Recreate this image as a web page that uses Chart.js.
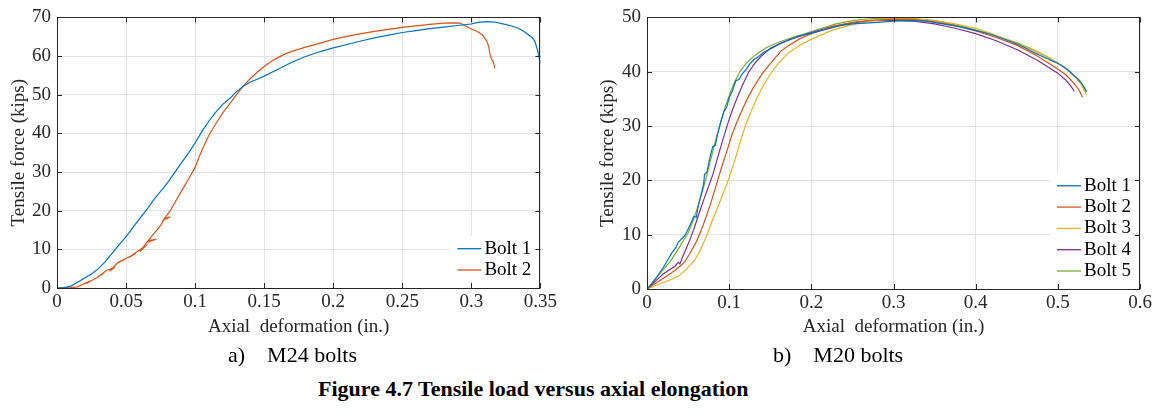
<!DOCTYPE html>
<html>
<head>
<meta charset="utf-8">
<script src="https://cdn.jsdelivr.net/npm/chart.js@4.4.0/dist/chart.umd.min.js"></script>
<style>
body { margin:0; background:#fff; width:1165px; height:411px; position:relative; overflow:hidden; font-family:"Times New Roman","Liberation Serif","DejaVu Serif",serif; }
.box { position:absolute; top:0; height:345px; }
#boxA { left:0; width:560px; }
#boxB { left:580px; width:585px; }
.cap { position:absolute; font-size:22px; white-space:pre; color:#000; line-height:22px; }
</style>
</head>
<body>
<div class="box" id="boxA"><canvas id="chartA"></canvas></div>
<div class="box" id="boxB"><canvas id="chartB"></canvas></div>
<div class="cap" style="left:228px;top:344px;">a)    M24 bolts</div>
<div class="cap" style="left:773px;top:344px;">b)    M20 bolts</div>
<div class="cap" style="left:318px;top:378px;font-weight:bold;">Figure 4.7 Tensile load versus axial elongation</div>
<script>
// M24 bolts (left)
const m24Ticks = [0, 0.05, 0.1, 0.15, 0.2, 0.25, 0.3, 0.35];
const m24TickLabels = ['0', '0.05', '0.1', '0.15', '0.2', '0.25', '0.3', '0.35'];
const m24YTicks = [0, 10, 20, 30, 40, 50, 60, 70];
const m24Bolt1 = [[0,0],[0.005,0.1],[0.01,0.5],[0.015,1.5],[0.02,2.6],[0.025,3.6],[0.03,5.0],[0.035,6.8],[0.04,9.0],[0.045,11.2],[0.05,13.3],[0.055,15.7],[0.06,18.0],[0.065,20.3],[0.07,22.8],[0.075,25.0],[0.08,27.2],[0.085,29.8],[0.09,32.3],[0.095,34.8],[0.1,37.5],[0.105,40.5],[0.11,43.2],[0.115,45.5],[0.12,47.5],[0.125,49.0],[0.13,50.8],[0.135,52.2],[0.14,53.3],[0.145,54.0],[0.15,54.8],[0.16,56.6],[0.17,58.4],[0.18,59.9],[0.19,61.1],[0.2,62.1],[0.21,63.0],[0.22,63.9],[0.23,64.7],[0.24,65.4],[0.25,66.1],[0.26,66.6],[0.27,67.1],[0.28,67.5],[0.29,67.9],[0.3,68.3],[0.305,68.7],[0.311,68.9],[0.317,68.8],[0.322,68.4],[0.328,67.9],[0.334,67.2],[0.338,66.4],[0.341,65.6],[0.344,64.8],[0.346,63.8],[0.348,61.5],[0.349,59.8],[0.35,58.0]];
const m24Bolt2 = [[0,0],[0.01,0.1],[0.015,0.3],[0.019,1.0],[0.024,1.8],[0.021,1.1],[0.029,2.7],[0.034,3.9],[0.03,2.9],[0.036,4.6],[0.041,5.1],[0.038,4.3],[0.044,6.6],[0.049,7.4],[0.044,6.5],[0.052,8.0],[0.057,8.9],[0.052,7.9],[0.06,9.9],[0.064,10.8],[0.06,9.4],[0.066,12.3],[0.072,12.6],[0.065,11.8],[0.07,14.0],[0.075,16.2],[0.078,18.0],[0.082,18.4],[0.077,17.6],[0.082,20.0],[0.086,22.5],[0.09,25.0],[0.095,28.0],[0.1,31.2],[0.103,34.0],[0.106,36.5],[0.11,39.5],[0.115,42.5],[0.12,45.3],[0.125,47.6],[0.13,50.0],[0.135,52.3],[0.14,54.2],[0.145,55.8],[0.15,57.3],[0.155,58.6],[0.16,59.6],[0.165,60.5],[0.17,61.2],[0.18,62.3],[0.19,63.3],[0.2,64.3],[0.21,65.1],[0.22,65.8],[0.23,66.4],[0.24,66.9],[0.25,67.4],[0.26,67.8],[0.27,68.2],[0.28,68.5],[0.288,68.6],[0.292,68.5],[0.295,67.9],[0.3,67.0],[0.304,66.4],[0.308,65.5],[0.311,64.0],[0.3125,62.6],[0.3135,60.5],[0.3145,59.3],[0.316,58.4],[0.317,56.8]];

// M20 bolts (right)
const m20Ticks = [0, 0.1, 0.2, 0.3, 0.4, 0.5, 0.6];
const m20TickLabels = ['0', '0.1', '0.2', '0.3', '0.4', '0.5', '0.6'];
const m20YTicks = [0, 10, 20, 30, 40, 50];
const m20Bolt1 = [[0,0],[0.005,0.8],[0.01,1.8],[0.015,2.9],[0.02,4.0],[0.025,5.3],[0.03,6.6],[0.035,7.6],[0.038,8.6],[0.042,9.2],[0.046,9.8],[0.05,11.0],[0.054,12.3],[0.057,13.4],[0.06,13.2],[0.062,15.0],[0.066,17.5],[0.069,19.4],[0.07,21.1],[0.073,21.5],[0.076,23.8],[0.08,26.2],[0.083,26.4],[0.086,28.5],[0.09,30.8],[0.094,32.8],[0.097,33.5],[0.1,35.2],[0.104,36.5],[0.108,38.3],[0.112,38.6],[0.116,39.6],[0.12,40.3],[0.125,41.4],[0.13,42.2],[0.136,42.8],[0.142,43.6],[0.149,44.1],[0.16,45.0],[0.172,45.8],[0.185,46.5],[0.2,47.1],[0.22,47.9],[0.235,48.5],[0.25,48.8],[0.27,49.0],[0.28,49.1],[0.3,49.3],[0.32,49.4],[0.34,49.3],[0.36,48.8],[0.38,48.3],[0.4,47.6],[0.42,46.8],[0.44,45.7],[0.45,45.1],[0.46,44.4],[0.47,43.6],[0.48,42.9],[0.49,42.2],[0.5,41.5],[0.505,41.1],[0.51,40.6],[0.515,40.0],[0.52,39.2],[0.525,38.6],[0.53,37.6],[0.533,36.9],[0.535,36.3]];
const m20Bolt2 = [[0,0],[0.01,1.0],[0.02,2.0],[0.03,3.0],[0.038,3.9],[0.046,5.0],[0.052,6.5],[0.06,8.7],[0.066,10.8],[0.072,13.3],[0.078,16.0],[0.085,19.5],[0.09,22.0],[0.097,25.3],[0.103,28.2],[0.109,30.6],[0.116,33.0],[0.122,35.0],[0.13,37.2],[0.14,39.6],[0.15,41.5],[0.163,43.8],[0.172,44.8],[0.185,46.0],[0.2,47.0],[0.225,48.3],[0.25,49.1],[0.275,49.5],[0.3,49.7],[0.325,49.6],[0.35,49.2],[0.375,48.5],[0.4,47.5],[0.425,46.3],[0.45,44.9],[0.475,42.9],[0.5,40.5],[0.51,39.4],[0.52,37.8],[0.526,36.6],[0.53,35.3]];
const m20Bolt3 = [[0,0],[0.01,0.6],[0.02,1.2],[0.03,1.8],[0.038,2.3],[0.045,3.2],[0.052,4.3],[0.058,5.3],[0.065,7.2],[0.073,10.0],[0.08,12.8],[0.086,15.0],[0.092,17.3],[0.1,20.5],[0.106,23.3],[0.111,25.8],[0.116,28.3],[0.12,30.2],[0.127,32.8],[0.134,35.2],[0.142,37.6],[0.152,40.0],[0.16,41.6],[0.17,43.2],[0.185,44.8],[0.2,46.0],[0.225,47.6],[0.25,48.7],[0.275,49.4],[0.3,49.7],[0.325,49.7],[0.35,49.4],[0.375,48.8],[0.4,48.0],[0.42,47.0],[0.45,45.2],[0.475,43.6],[0.5,41.6],[0.51,40.6],[0.52,39.2],[0.528,37.8],[0.532,36.6],[0.535,35.7]];
const m20Bolt4 = [[0,0],[0.01,1.4],[0.02,2.8],[0.028,3.6],[0.034,4.2],[0.038,4.9],[0.04,4.6],[0.043,5.8],[0.047,7.2],[0.052,9.0],[0.057,11.0],[0.062,13.3],[0.068,16.0],[0.074,18.5],[0.08,21.0],[0.086,24.2],[0.092,27.3],[0.098,30.3],[0.104,33.0],[0.11,35.3],[0.117,37.8],[0.124,40.0],[0.132,41.7],[0.14,43.0],[0.15,44.3],[0.165,45.4],[0.18,46.3],[0.2,47.2],[0.225,48.3],[0.25,49.0],[0.275,49.4],[0.3,49.5],[0.325,49.3],[0.35,48.8],[0.375,48.0],[0.4,47.0],[0.425,45.7],[0.45,44.1],[0.475,42.1],[0.5,39.7],[0.51,38.4],[0.516,37.3],[0.52,36.4]];
const m20Bolt5 = [[0,0],[0.01,1.8],[0.02,3.6],[0.028,5.0],[0.035,6.6],[0.042,8.3],[0.05,10.3],[0.056,12.5],[0.062,15.2],[0.068,18.3],[0.072,20.5],[0.077,23.5],[0.082,26.5],[0.087,29.3],[0.092,32.0],[0.097,34.3],[0.102,36.4],[0.107,38.2],[0.113,40.0],[0.12,41.4],[0.128,42.6],[0.136,43.5],[0.145,44.4],[0.155,45.1],[0.165,45.7],[0.175,46.2],[0.19,46.9],[0.2,47.4],[0.215,48.1],[0.23,48.8],[0.25,49.4],[0.275,49.8],[0.3,49.9],[0.325,49.8],[0.35,49.4],[0.372,48.7],[0.398,47.8],[0.425,46.6],[0.453,45.2],[0.475,43.7],[0.49,42.5],[0.5,41.6],[0.512,40.3],[0.52,39.3],[0.527,38.3],[0.532,37.0],[0.534,36.2]];

const colors = ['#0072BD', '#D95319', '#EDB120', '#7E2F8E', '#77AC30'];
const FONT = '"Times New Roman", "Liberation Serif", "DejaVu Serif", serif';
const INK = '#262626';

// frame with inward ticks + matlab-like legend in the lower right corner
const matlabBox = {
  id: 'matlabBox',
  afterDatasetsDraw(chart) {
    const { ctx, chartArea: a, scales: { x, y } } = chart;
    const ds = chart.data.datasets;
    const n = ds.length;
    const tx = a.right - 56;
    const rowY = i => a.bottom - 18 - (n - 1 - i) * 21.3;
    ctx.save();
    ctx.fillStyle = '#fff';
    ctx.fillRect(tx - 33, rowY(0) - 13, a.right - 2 - (tx - 33), rowY(n - 1) - rowY(0) + 24);
    ctx.font = '19px ' + FONT;
    ctx.textBaseline = 'middle';
    ds.forEach((d, i) => {
      ctx.strokeStyle = d.borderColor;
      ctx.lineWidth = 1.3;
      ctx.beginPath();
      ctx.moveTo(tx - 27, rowY(i));
      ctx.lineTo(tx - 3, rowY(i));
      ctx.stroke();
      ctx.fillStyle = '#000';
      ctx.fillText(d.label, tx, rowY(i));
    });
    ctx.strokeStyle = INK;
    ctx.lineWidth = 1;
    ctx.strokeRect(Math.round(a.left) + 0.5, Math.round(a.top) + 0.5, Math.round(a.width) - 1, Math.round(a.height));
    ctx.beginPath();
    x.ticks.forEach(t => {
      const px = Math.round(x.getPixelForValue(t.value)) + 0.5;
      ctx.moveTo(px, a.bottom); ctx.lineTo(px, a.bottom - 5);
      ctx.moveTo(px, a.top); ctx.lineTo(px, a.top + 5);
    });
    y.ticks.forEach(t => {
      const py = Math.round(y.getPixelForValue(t.value)) + 0.5;
      ctx.moveTo(a.left, py); ctx.lineTo(a.left + 5, py);
      ctx.moveTo(a.right, py); ctx.lineTo(a.right - 5, py);
    });
    ctx.stroke();
    ctx.restore();
  }
};

function makeChart(id, series, xMax, xTicks, xLabels, yMax, yTicks, yWidth, xHeight, yTitlePad, rightPad) {
  return new Chart(document.getElementById(id), {
    type: 'scatter',
    data: {
      datasets: series.map((s, i) => ({
        label: 'Bolt ' + (i + 1),
        data: s.map(p => ({ x: p[0], y: p[1] })),
        showLine: true,
        borderColor: colors[i],
        borderWidth: 1.2,
        pointRadius: 0,
        tension: 0
      }))
    },
    options: {
      animation: false,
      responsive: true,
      maintainAspectRatio: false,
      devicePixelRatio: 1,
      layout: { padding: { top: 13, right: rightPad, left: 0, bottom: 0 } },
      plugins: { legend: { display: false }, tooltip: { enabled: false } },
      scales: {
        x: {
          type: 'linear', min: 0, max: xMax,
          afterBuildTicks: s => { s.ticks = xTicks.map(v => ({ value: v })); },
          afterFit: s => { s.height = xHeight; },
          ticks: { font: { family: FONT, size: 19 }, color: INK, padding: 3, maxRotation: 0, autoSkip: false,
                   callback: (v, i) => xLabels[i] },
          grid: { color: '#e3e3e3', drawTicks: false },
          border: { display: false },
          title: { display: true, text: 'Axial  deformation (in.)', color: INK,
                   font: { family: FONT, size: 19 }, padding: { top: 0, bottom: 7 } }
        },
        y: {
          type: 'linear', min: 0, max: yMax,
          afterBuildTicks: s => { s.ticks = yTicks.map(v => ({ value: v })); },
          afterFit: s => { s.width = yWidth; },
          ticks: { font: { family: FONT, size: 19 }, color: INK, padding: 6, autoSkip: false },
          grid: { color: '#e3e3e3', drawTicks: false },
          border: { display: false },
          title: { display: true, text: 'Tensile force (kips)', color: INK,
                   font: { family: FONT, size: 19 }, padding: { top: yTitlePad, bottom: 0 } }
        }
      }
    },
    plugins: [matlabBox]
  });
}

makeChart('chartA', [m24Bolt1, m24Bolt2], 0.35, m24Ticks, m24TickLabels, 70, m24YTicks, 57, 57, 8, 14);
makeChart('chartB', [m20Bolt1, m20Bolt2, m20Bolt3, m20Bolt4, m20Bolt5], 0.6, m20Ticks, m20TickLabels, 50, m20YTicks, 67, 56, 17, 25);
</script>
</body>
</html>
